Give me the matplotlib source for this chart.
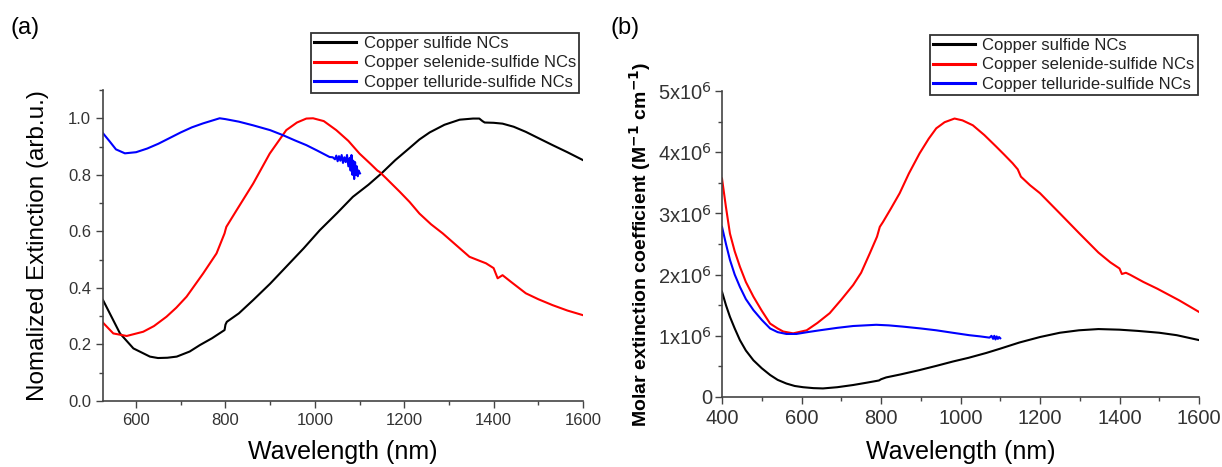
import matplotlib
matplotlib.use("Agg")
import matplotlib.pyplot as plt
from matplotlib.ticker import MultipleLocator, FixedLocator

plt.rcParams['font.family'] = ['Liberation Sans', 'DejaVu Sans']

# ---------- Panel (a): normalized extinction ----------
a_cus_x = [526, 545, 564, 594, 631, 649, 670, 691, 720, 743, 770, 798, 800, 803, 830, 862, 900, 936, 975,
           1011, 1050, 1085, 1120, 1149, 1180, 1212, 1234, 1257, 1290, 1324, 1354, 1368, 1375, 1380, 1400,
           1420, 1445, 1472, 1500, 1532, 1565, 1600]
a_cus_y = [0.357, 0.298, 0.239, 0.186, 0.157, 0.152, 0.153, 0.157, 0.175, 0.198, 0.222, 0.251, 0.27, 0.28,
           0.31, 0.357, 0.415, 0.475, 0.54, 0.604, 0.665, 0.722, 0.765, 0.805, 0.852, 0.895, 0.925, 0.95,
           0.977, 0.995, 0.999, 0.999, 0.99, 0.985, 0.984, 0.981, 0.97, 0.952, 0.93, 0.905, 0.88, 0.852]

a_cuse_x = [526, 549, 579, 616, 640, 668, 690, 713, 750, 780, 798, 800, 802, 825, 862, 899, 936, 960, 981,
            996, 1020, 1048, 1075, 1100, 1125, 1140, 1145, 1160, 1190, 1212, 1234, 1260, 1286, 1346, 1370,
            1383, 1400, 1409, 1415, 1420, 1440, 1472, 1500, 1532, 1565, 1599]
a_cuse_y = [0.277, 0.239, 0.23, 0.245, 0.265, 0.298, 0.33, 0.369, 0.451, 0.522, 0.593, 0.605, 0.616, 0.675,
            0.769, 0.875, 0.958, 0.985, 0.999, 1.0, 0.99, 0.958, 0.92, 0.875, 0.838, 0.815, 0.81, 0.787,
            0.74, 0.704, 0.663, 0.625, 0.593, 0.51, 0.495, 0.487, 0.47, 0.434, 0.44, 0.445, 0.42, 0.381,
            0.36, 0.339, 0.32, 0.304]

a_cute_x = [526, 540, 555, 575, 600, 625, 650, 675, 700, 725, 750, 787, 800, 830, 862, 900, 929, 955, 981,
            1005, 1033, 1040, 1045, 1048, 1051, 1054, 1057, 1060, 1063, 1066, 1069, 1072, 1075, 1078, 1080,
            1082, 1084, 1086, 1088, 1090, 1092, 1094, 1096, 1098, 1101]
a_cute_y = [0.947, 0.92, 0.89, 0.876, 0.88, 0.893, 0.91, 0.93, 0.95, 0.968, 0.982, 1.0, 0.997, 0.988, 0.975,
            0.958, 0.94, 0.922, 0.905, 0.886, 0.863, 0.862, 0.855, 0.868, 0.848, 0.866, 0.85, 0.87, 0.842,
            0.862, 0.845, 0.87, 0.83, 0.86, 0.815, 0.87, 0.80, 0.85, 0.785, 0.845, 0.80, 0.83, 0.795, 0.815,
            0.805]

# ---------- Panel (b): molar extinction coefficient (units of 1e6) ----------
b_cus_x = [400, 410, 420, 432, 445, 460, 479, 500, 521, 540, 562, 583, 604, 630, 654, 690, 730, 765, 795,
           800, 813, 850, 897, 940, 981, 1020, 1065, 1100, 1148, 1200, 1250, 1298, 1347, 1400, 1446, 1500,
           1544, 1600]
b_cus_y = [1.72, 1.50, 1.31, 1.12, 0.93, 0.76, 0.60, 0.47, 0.36, 0.28, 0.22, 0.18, 0.16, 0.145, 0.14, 0.16,
           0.196, 0.235, 0.27, 0.29, 0.32, 0.37, 0.44, 0.51, 0.58, 0.64, 0.72, 0.79, 0.89, 0.98, 1.05, 1.09,
           1.11, 1.10, 1.08, 1.05, 1.01, 0.93]

b_cuse_x = [400, 410, 420, 432, 445, 460, 479, 500, 521, 540, 554, 579, 613, 640, 671, 700, 730, 750, 772,
            790, 797, 805, 825, 847, 870, 897, 920, 939, 960, 985, 1005, 1031, 1060, 1090, 1110, 1131, 1144,
            1152, 1175, 1200, 1250, 1298, 1347, 1377, 1400, 1406, 1416, 1426, 1460, 1495, 1550, 1600]
b_cuse_y = [3.57, 3.1, 2.67, 2.38, 2.13, 1.88, 1.64, 1.41, 1.20, 1.12, 1.07, 1.04, 1.09, 1.21, 1.37, 1.59,
            1.83, 2.03, 2.35, 2.62, 2.78, 2.86, 3.08, 3.33, 3.65, 3.98, 4.22, 4.39, 4.49, 4.55, 4.52, 4.44,
            4.28, 4.09, 3.96, 3.82, 3.72, 3.6, 3.46, 3.33, 3.0, 2.68, 2.36, 2.2, 2.1, 2.01, 2.03, 2.0, 1.88,
            1.77, 1.58, 1.39]

b_cute_x = [400, 410, 420, 432, 445, 460, 479, 500, 521, 540, 562, 587, 615, 646, 690, 730, 788, 820, 855,
            900, 939, 980, 1022, 1050, 1073, 1078, 1082, 1085, 1088, 1091, 1094, 1097, 1100]
b_cute_y = [2.78, 2.5, 2.24, 2.0, 1.80, 1.6, 1.42, 1.26, 1.12, 1.06, 1.03, 1.03, 1.06, 1.09, 1.13, 1.16,
            1.18, 1.17, 1.15, 1.12, 1.09, 1.05, 1.01, 0.99, 0.97, 1.0, 0.95, 1.0, 0.94, 0.99, 0.95, 0.98, 0.96]

labels = ["Copper sulfide NCs", "Copper selenide-sulfide NCs", "Copper telluride-sulfide NCs"]
colors = ["#000000", "#ff0000", "#0000ff"]

a_xticks = [600, 800, 1000, 1200, 1400, 1600]
a_yticks = [0.0, 0.2, 0.4, 0.6, 0.8, 1.0]
b_xticks = [400, 600, 800, 1000, 1200, 1400, 1600]
b_yticks = [0, 1, 2, 3, 4, 5]
b_yticklabels = ["0", "1x10$^6$", "2x10$^6$", "3x10$^6$", "4x10$^6$", "5x10$^6$"]

fig = plt.figure(figsize=(12.22, 4.67), dpi=100)
axa = fig.add_axes([103/1222, 1-401/467, (583-103)/1222, (401-90)/467])
axb = fig.add_axes([722/1222, 1-397/467, (1199-722)/1222, (397-91)/467])

spine_col = "#444444"
tick_col = "#333333"


def style(ax):
    for s in ["top", "right"]:
        ax.spines[s].set_visible(False)
    for s in ["left", "bottom"]:
        ax.spines[s].set_color(spine_col)
        ax.spines[s].set_linewidth(1.2)
    ax.tick_params(which="both", direction="out", colors=spine_col, labelcolor=tick_col, width=1.0)
    ax.tick_params(which="major", length=5)
    ax.tick_params(which="minor", length=3)


def legend(ax, x0, y0):
    leg = ax.legend(loc="upper left", bbox_to_anchor=(x0/1222, 1-y0/467), bbox_transform=fig.transFigure,
                    fontsize=12, frameon=True, fancybox=False, borderpad=0.2, labelspacing=0.25,
                    handlelength=2.5, handletextpad=0.45, borderaxespad=0)
    leg.get_frame().set_edgecolor("black")
    leg.get_frame().set_linewidth(1.3)
    for t in leg.get_texts():
        t.set_color("#222222")
    for h in leg.get_lines():
        h.set_linewidth(2.2)
    return leg


# Panel a
for xs, ys, c, lab in [(a_cus_x, a_cus_y, colors[0], labels[0]),
                       (a_cuse_x, a_cuse_y, colors[1], labels[1]),
                       (a_cute_x, a_cute_y, colors[2], labels[2])]:
    axa.plot(xs, ys, color=c, lw=1.5, label=lab)
axa.set_xlim(526, 1600)
axa.set_ylim(0, 1.1)
axa.xaxis.set_major_locator(FixedLocator(a_xticks))
axa.xaxis.set_minor_locator(MultipleLocator(100))
axa.yaxis.set_major_locator(FixedLocator(a_yticks))
axa.yaxis.set_minor_locator(MultipleLocator(0.1))
axa.set_yticklabels([f"{v:.1f}" for v in a_yticks])
style(axa)
axa.tick_params(labelsize=12)
axa.set_xlabel("Wavelength (nm)", fontsize=18, labelpad=9)
axa.set_ylabel("Nomalized Extinction (arb.u.)", fontsize=17.5, labelpad=14)
legend(axa, 311, 33)
fig.text(10/1222, 1-28/467, "(a)", fontsize=17, va="center", ha="left")

# Panel b
for xs, ys, c, lab in [(b_cus_x, b_cus_y, colors[0], labels[0]),
                       (b_cuse_x, b_cuse_y, colors[1], labels[1]),
                       (b_cute_x, b_cute_y, colors[2], labels[2])]:
    axb.plot(xs, ys, color=c, lw=1.5, label=lab)
axb.set_xlim(400, 1600)
axb.set_ylim(0, 5)
axb.xaxis.set_major_locator(FixedLocator(b_xticks))
axb.xaxis.set_minor_locator(MultipleLocator(100))
axb.yaxis.set_major_locator(FixedLocator(b_yticks))
axb.yaxis.set_minor_locator(MultipleLocator(0.5))
axb.set_yticklabels(b_yticklabels)
style(axb)
axb.tick_params(labelsize=14.5)
axb.tick_params(axis="y", pad=2)
axb.set_xlabel("Wavelength (nm)", fontsize=18, labelpad=9)
axb.set_ylabel("Molar extinction coefficient (M$^{\\mathbf{-1}}$ cm$^{\\mathbf{-1}}$)", fontsize=14,
               fontweight="bold", labelpad=4)
legend(axb, 930, 35)
fig.text(610/1222, 1-28/467, "(b)", fontsize=17, va="center", ha="left")

fig.savefig("out.png", dpi=100)
